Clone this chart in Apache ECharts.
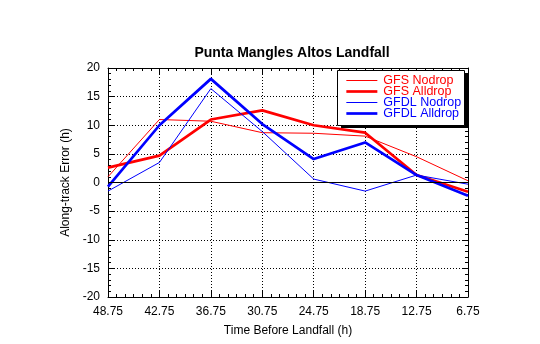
<!DOCTYPE html>
<html>
<head>
<meta charset="utf-8">
<script src="https://cdn.jsdelivr.net/npm/echarts@6/dist/echarts.min.js"></script>
<style>
  html, body { margin: 0; padding: 0; background: #ffffff; }
  #chart { width: 540px; height: 344px; }
</style>
</head>
<body>
<div id="chart"></div>
<script>
// Hours before landfall, left to right
const hourLabels = ['48.75', '42.75', '36.75', '30.75', '24.75', '18.75', '12.75', '6.75'];

// Along-track error (h) for each forecast run
const gfsNodrop   = [1.0, 11.0, 10.7, 8.7, 8.6, 8.1, 4.5, 0.3];
const gfsAlldrop  = [2.6, 4.7, 11.0, 12.6, 10.0, 8.7, 1.3, -1.6];
const gfdlNodrop  = [-1.5, 3.5, 16.4, 8.9, 0.6, -1.5, 1.3, -0.3];
const gfdlAlldrop = [-0.7, 10.0, 18.1, 10.2, 4.1, 7.0, 1.3, -2.3];

const FONT = '"Liberation Sans", Arial, Helvetica, sans-serif';
const THIN = 1;
const THICK = 2.7;

// Legend frame (box with a hard drop shadow)
const LEGEND_BOX = { x: 337, y: 70, width: 127, height: 55 };

function pairs(values) {
  return values.map((v, i) => [i, v]);
}

function lineSeries(name, values, color, width, extra) {
  return Object.assign({
    name: name,
    type: 'line',
    data: pairs(values),
    showSymbol: false,
    symbol: 'none',
    lineStyle: { color: color, width: width },
    itemStyle: { color: color },
    silent: true,
    animation: false
  }, extra || {});
}

function legendEntry(name, color, width) {
  return {
    name: name,
    textStyle: { color: color },
    lineStyle: { color: color, width: width }
  };
}

const tickCommon = {
  axisTick: { show: true, inside: true, length: 6, lineStyle: { color: '#000' } },
  axisLine: { show: true, onZero: false, lineStyle: { color: '#000', width: 1 } }
};

const chart = echarts.init(document.getElementById('chart'), null, { renderer: 'canvas' });

chart.setOption({
  backgroundColor: '#ffffff',
  animation: false,
  title: {
    text: 'Punta Mangles Altos Landfall',
    left: 287,
    textAlign: 'center',
    top: 41,
    textStyle: { fontFamily: FONT, fontSize: 14, fontWeight: 'bold', color: '#000' }
  },
  grid: { left: 108, right: 72, top: 68, bottom: 47, containLabel: false },
  graphic: [
    {
      type: 'rect',
      z: 3,
      silent: true,
      shape: { x: LEGEND_BOX.x + 4, y: LEGEND_BOX.y + 3, width: LEGEND_BOX.width, height: LEGEND_BOX.height },
      style: { fill: '#000' }
    },
    {
      type: 'rect',
      z: 3,
      silent: true,
      shape: { x: LEGEND_BOX.x + 0.5, y: LEGEND_BOX.y + 0.5, width: LEGEND_BOX.width, height: LEGEND_BOX.height },
      style: { fill: '#fff', stroke: '#000', lineWidth: 1 }
    }
  ],
  legend: {
    orient: 'vertical',
    z: 5,
    left: LEGEND_BOX.x + 8,
    top: LEGEND_BOX.y + 4,
    padding: 0,
    itemWidth: 31,
    itemHeight: 10,
    itemGap: -2,
    itemStyle: { opacity: 0 },
    textStyle: { fontFamily: FONT, fontSize: 12.5, padding: [0, 0, 0, 1] },
    data: [
      legendEntry('GFS Nodrop', '#ff0000', THIN),
      legendEntry('GFS Alldrop', '#ff0000', THICK),
      legendEntry('GFDL Nodrop', '#0000ff', THIN),
      legendEntry('GFDL Alldrop', '#0000ff', THICK)
    ]
  },
  xAxis: [
    Object.assign({
      type: 'value',
      min: 0,
      max: 7,
      interval: 1,
      position: 'bottom',
      name: 'Time Before Landfall (h)',
      nameLocation: 'middle',
      nameGap: 28,
      nameTextStyle: { fontFamily: FONT, fontSize: 12, color: '#000' },
      axisLabel: {
        margin: 9,
        fontFamily: FONT,
        fontSize: 12,
        color: '#000',
        formatter: (v) => hourLabels[Math.round(v)] || ''
      },
      minorTick: { show: true, splitNumber: 6, length: 3, lineStyle: { color: '#000' } },
      splitLine: { show: true, lineStyle: { color: '#000', type: [1, 2], width: 1 } }
    }, tickCommon),
    Object.assign({
      type: 'value',
      min: 0,
      max: 7,
      interval: 1,
      position: 'top',
      axisLabel: { show: false },
      minorTick: { show: true, splitNumber: 6, length: 3, lineStyle: { color: '#000' } },
      splitLine: { show: false }
    }, tickCommon)
  ],
  yAxis: [
    Object.assign({
      type: 'value',
      min: -20,
      max: 20,
      interval: 5,
      position: 'left',
      name: 'Along-track Error (h)',
      nameLocation: 'middle',
      nameGap: 27,
      nameTextStyle: { fontFamily: FONT, fontSize: 12, color: '#000' },
      axisLabel: { margin: 8, fontFamily: FONT, fontSize: 12, color: '#000' },
      minorTick: { show: true, splitNumber: 5, length: 3, lineStyle: { color: '#000' } },
      splitLine: { show: true, lineStyle: { color: '#000', type: [1, 2], width: 1 } }
    }, tickCommon),
    Object.assign({
      type: 'value',
      min: -20,
      max: 20,
      interval: 5,
      position: 'right',
      axisLabel: { show: false },
      minorTick: { show: true, splitNumber: 5, length: 3, lineStyle: { color: '#000' } },
      splitLine: { show: false }
    }, tickCommon)
  ],
  series: [
    lineSeries('GFS Nodrop', gfsNodrop, '#ff0000', THIN, {
      markLine: {
        silent: true,
        symbol: 'none',
        label: { show: false },
        lineStyle: { color: '#000', type: 'solid', width: 1 },
        data: [{ yAxis: 0 }]
      }
    }),
    lineSeries('GFS Alldrop', gfsAlldrop, '#ff0000', THICK),
    lineSeries('GFDL Nodrop', gfdlNodrop, '#0000ff', THIN),
    lineSeries('GFDL Alldrop', gfdlAlldrop, '#0000ff', THICK)
  ]
});
</script>
</body>
</html>
